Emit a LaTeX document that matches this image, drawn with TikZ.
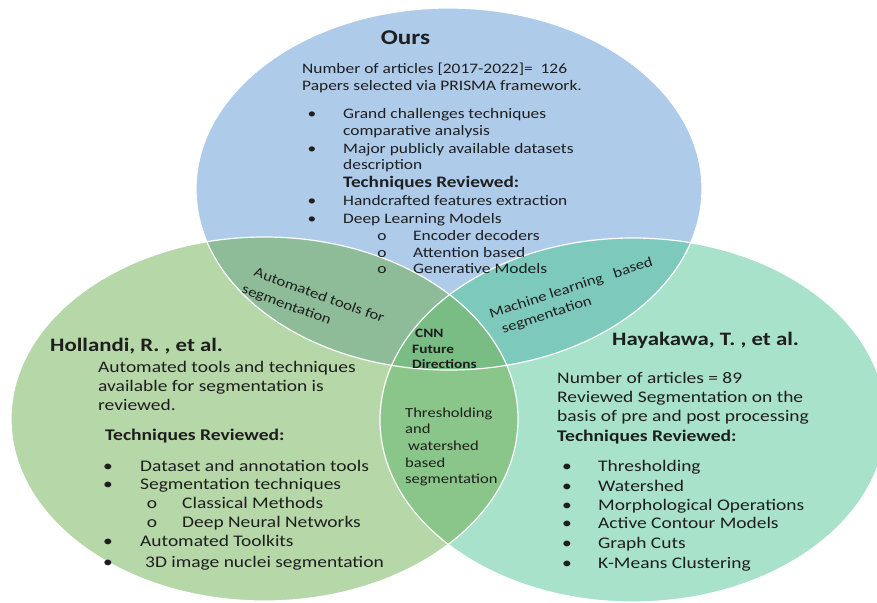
\documentclass[tikz,border=0pt]{standalone}
\usepackage{fontspec}
\setmainfont{Carlito}[FakeStretch=1.2]
\definecolor{blueC}{HTML}{AECBEA}
\definecolor{leftC}{HTML}{B6D7A8}
\definecolor{rightC}{HTML}{A8E2CA}
\definecolor{blC}{HTML}{8EBC98}
\definecolor{brC}{HTML}{7DCABC}
\definecolor{lrC}{HTML}{8AC68A}
\definecolor{cC}{HTML}{79BD84}
\definecolor{txtC}{HTML}{1E1E1E}
\tikzset{
  tx/.style={anchor=base west, inner sep=0pt, text=txtC},
  bl/.style={anchor=base, inner sep=0pt, text=txtC},
  fA/.style={font=\fontsize{14.5}{17}\selectfont},
  fB/.style={font=\fontsize{16.2}{19}\selectfont},
  fH/.style={font=\bfseries\fontsize{16.3}{19}\selectfont},
  fHs/.style={font=\bfseries\fontsize{16}{19}\selectfont},
  fN/.style={font=\bfseries\fontsize{19}{22}\selectfont},
  fO/.style={font=\bfseries\fontsize{21}{24}\selectfont},
  fC/.style={font=\fontsize{13.8}{17}\selectfont},
  fD/.style={font=\bfseries\fontsize{12.8}{15}\selectfont},
  rot/.style={inner sep=0pt, text=txtC, align=left, anchor=center},
  rim/.style={draw=white, line width=1.2pt}
}
\begin{document}
\begin{tikzpicture}[x=1pt,y=-1pt]
\useasboundingbox (0,0) rectangle (877,602);
\fill[white] (0,0) rectangle (877,602);
\clip (0,0) rectangle (877,602);
% circles
\fill[blueC]  (449,189) ellipse [x radius=253pt, y radius=181pt];
\fill[leftC]  (264.5,419) ellipse [x radius=253.5pt, y radius=182pt];
\fill[rightC] (633,420) ellipse [x radius=253pt, y radius=182pt];
\begin{scope}
  \clip (449,189) ellipse [x radius=253pt, y radius=181pt];
  \fill[blC] (264.5,419) ellipse [x radius=253.5pt, y radius=182pt];
  \fill[brC] (633,420) ellipse [x radius=253pt, y radius=182pt];
\end{scope}
\begin{scope}
  \clip (264.5,419) ellipse [x radius=253.5pt, y radius=182pt];
  \fill[lrC] (633,420) ellipse [x radius=253pt, y radius=182pt];
  \clip (449,189) ellipse [x radius=253pt, y radius=181pt];
  \fill[cC] (633,420) ellipse [x radius=253pt, y radius=182pt];
\end{scope}
\draw[rim] (449,189) ellipse [x radius=253pt, y radius=181pt];
\draw[rim] (264.5,419) ellipse [x radius=253.5pt, y radius=182pt];
\draw[rim] (633,420) ellipse [x radius=253pt, y radius=182pt];

% ---- Ours (top) ----
\node[bl,fO] (ours) at (405.5,45) {Ours};
\node[tx,fA] (o1) at (302,74) {Number of articles [2017-2022]=\ \ 126};
\node[tx,fA] (o2) at (302,90) {Papers selected via PRISMA framework.};
\node[bl,fA] (ob1) at (312,118) {•};
\node[tx,fA] (o3) at (343,118) {Grand challenges techniques};
\node[tx,fA] (o4) at (343,135) {comparative analysis};
\node[bl,fA] (ob2) at (312,153) {•};
\node[tx,fA] (o5) at (343,153) {Major publicly available datasets};
\node[tx,fA] (o6) at (343,169) {description};
\node[tx,fHs] (o7) at (343,187) {Techniques Reviewed:};
\node[bl,fA] (ob3) at (312,205) {•};
\node[tx,fA] (o8) at (343,205) {Handcrafted features extraction};
\node[bl,fA] (ob4) at (312,223) {•};
\node[tx,fA] (o9) at (343,223) {Deep Learning Models};
\node[bl,fA] (os1) at (382,240) {o};
\node[tx,fA] (o10) at (413,240) {Encoder decoders};
\node[bl,fA] (os2) at (382,257) {o};
\node[tx,fA] (o11) at (413,257) {Attention based};
\node[bl,fA] (os3) at (382,273) {o};
\node[tx,fA] (o12) at (413,273) {Generative Models};

% ---- Hollandi (left) ----
\node[tx,fN] (h0) at (50,351) {Hollandi, R. , et al.};
\node[tx,fB] (h1) at (98,372) {Automated tools and techniques};
\node[tx,fB] (h2) at (98,391) {available for segmentation is};
\node[tx,fB] (h3) at (98,410) {reviewed.};
\node[tx,fH] (h4) at (105,440) {Techniques Reviewed:};
\node[bl,fB] (hb1) at (108,471) {•};
\node[tx,fB] (h5) at (140,471) {Dataset and annotation tools};
\node[bl,fB] (hb2) at (108,489) {•};
\node[tx,fB] (h6) at (140,489) {Segmentation techniques};
\node[bl,fB] (hs1) at (152,508) {o};
\node[tx,fB] (h7) at (182,508) {Classical Methods};
\node[bl,fB] (hs2) at (152,527) {o};
\node[tx,fB] (h8) at (182,527) {Deep Neural Networks};
\node[bl,fB] (hb3) at (108,546) {•};
\node[tx,fB] (h9) at (140,546) {Automated Toolkits};
\node[bl,fB] (hb4) at (108,567) {•};
\node[tx,fB] (h10) at (145,567) {3D image nuclei segmentation};

% ---- Hayakawa (right) ----
\node[tx,fN] (k0) at (612,345) {Hayakawa, T. , et al.};
\node[tx,fB] (k1) at (557,383) {Number of articles = 89};
\node[tx,fB] (k2) at (557,402) {Reviewed Segmentation on the};
\node[tx,fB] (k3) at (557,421) {basis of pre and post processing};
\node[tx,fH] (k4) at (557,441) {Techniques Reviewed:};
\node[bl,fB] (kb1) at (567,471) {•};
\node[tx,fB] (k5) at (598,471) {Thresholding};
\node[bl,fB] (kb2) at (567,491) {•};
\node[tx,fB] (k6) at (598,491) {Watershed};
\node[bl,fB] (kb3) at (567,510) {•};
\node[tx,fB] (k7) at (598,510) {Morphological Operations};
\node[bl,fB] (kb4) at (567,528) {•};
\node[tx,fB] (k8) at (598,528) {Active Contour Models};
\node[bl,fB] (kb5) at (567,548) {•};
\node[tx,fB] (k9) at (598,548) {Graph Cuts};
\node[bl,fB] (kb6) at (567,568) {•};
\node[tx,fB] (k10) at (598,568) {K-Means Clustering};

% ---- overlaps ----
\node[rot,font=\fontsize{14}{20}\selectfont,rotate=-20] (auto) at (313,304.5)
  {\hspace*{5.5pt}Automated tools for\\segmentation};
\node[rot,font=\fontsize{14}{18}\selectfont,rotate=18] (mach) at (574,297)
  {Machine learning \ \ based\\\hspace*{7pt}segmentation};
\node[tx,fD] (c1) at (415,337) {CNN};
\node[tx,fD] (c2) at (412,353) {Future};
\node[tx,fD] (c3) at (412,368) {Directions};
\node[tx,fC] (t1) at (405,417) {Thresholding};
\node[tx,fC] (t2) at (405,433) {and};
\node[tx,fC] (t3) at (408,450) {watershed};
\node[tx,fC] (t4) at (405,467) {based};
\node[tx,fC] (t5) at (405,483) {segmentation};
\end{tikzpicture}
\end{document}
